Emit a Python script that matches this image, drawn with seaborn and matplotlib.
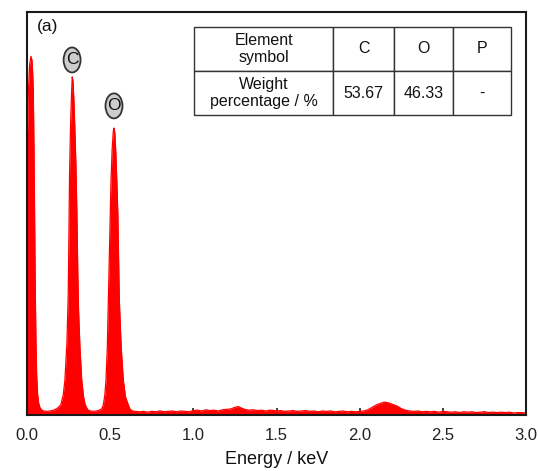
import matplotlib
matplotlib.use("Agg")
import matplotlib.pyplot as plt
from matplotlib.ticker import MultipleLocator
from matplotlib.patches import Ellipse
import seaborn as sns
import pandas as pd

# ---- data (energy in keV, intensity in % of axis height) ----
peak0_energy = [0.000, 0.008, 0.016, 0.024, 0.030, 0.034, 0.038, 0.042, 0.046, 0.050,
                0.054, 0.058, 0.064, 0.070, 0.078, 0.090]
peak0_counts = [64, 80, 87, 89, 88, 85, 80, 66, 48, 30, 18, 10, 5, 3, 1.8, 1.2]

valley1_energy = [0.100, 0.120, 0.140, 0.160, 0.175]
valley1_counts = [1.0, 0.9, 1.0, 1.2, 1.5]

c_energy = [0.186, 0.203, 0.218, 0.228, 0.240, 0.248, 0.252, 0.256, 0.262, 0.268, 0.272,
            0.276, 0.281, 0.287, 0.294, 0.300, 0.305, 0.310, 0.318, 0.329, 0.340, 0.350, 0.365]
c_counts = [1.8, 2.5, 5, 8.7, 18, 30, 45, 60, 72, 80, 83.9,
            83, 79, 72, 62, 50, 36, 26, 17, 8.7, 4.5, 2.5, 1.3]

valley2_energy = [0.380, 0.400, 0.420, 0.440]
valley2_counts = [1.0, 0.9, 1.0, 1.3]

o_energy = [0.450, 0.459, 0.468, 0.475, 0.483, 0.489, 0.495, 0.500, 0.505, 0.512, 0.519,
            0.523, 0.528, 0.534, 0.540, 0.546, 0.551, 0.555, 0.566, 0.579, 0.592, 0.609,
            0.620, 0.635]
o_counts = [1.6, 2.5, 5, 8.7, 17, 28.5, 40, 50, 58, 66, 70.5,
            71.2, 70, 65, 58, 50, 38, 28.5, 17, 8.7, 4.5, 2.5, 1.4, 1.0]

bg_energy = [0.650, 0.675, 0.700, 0.725, 0.750, 0.775, 0.800, 0.825, 0.850, 0.875, 0.900,
             0.925, 0.950, 0.975, 1.000, 1.025, 1.050, 1.075, 1.100, 1.125, 1.150, 1.175,
             1.200, 1.225, 1.250, 1.270, 1.290, 1.310, 1.335, 1.360, 1.385, 1.410, 1.435,
             1.460, 1.485, 1.500, 1.525, 1.550, 1.575, 1.600, 1.625, 1.650, 1.675, 1.700,
             1.725, 1.750, 1.775, 1.800, 1.825, 1.850, 1.875, 1.900, 1.925, 1.950, 1.975,
             2.000, 2.025, 2.050, 2.075, 2.100, 2.125, 2.150, 2.175, 2.200, 2.225, 2.250,
             2.275, 2.300, 2.325, 2.350, 2.375, 2.400, 2.425, 2.450, 2.475, 2.500, 2.525,
             2.550, 2.575, 2.600, 2.625, 2.650, 2.675, 2.700, 2.725, 2.750, 2.775, 2.800,
             2.825, 2.850, 2.875, 2.900, 2.925, 2.950, 2.975, 3.000]
bg_counts = [0.9, 0.8, 0.9, 0.7, 0.9, 0.8, 1.0, 0.8, 0.9, 1.0, 0.8,
             1.0, 0.9, 0.8, 1.1, 1.2, 1.0, 1.3, 1.1, 1.2, 1.0, 1.3,
             1.4, 1.5, 1.9, 2.1, 1.7, 1.4, 1.2, 1.3, 1.1, 1.2, 1.0,
             1.2, 1.1, 1.0, 1.1, 0.9, 1.0, 1.1, 0.9, 1.0, 1.1, 0.9,
             1.0, 0.8, 1.0, 0.9, 1.0, 0.8, 0.9, 1.0, 0.8, 0.9, 0.8,
             0.9, 1.0, 1.3, 1.9, 2.5, 2.9, 3.2, 3.0, 2.6, 2.2, 1.6,
             1.2, 1.0, 0.9, 1.0, 0.8, 0.9, 0.8, 0.9, 0.7, 0.9, 0.8,
             0.7, 0.8, 0.6, 0.8, 0.7, 0.8, 0.6, 0.7, 0.8, 0.6, 0.7,
             0.6, 0.7, 0.6, 0.7, 0.5, 0.6, 0.6, 0.5]

peak_labels = ["C", "O"]
peak_label_energy = [0.271, 0.523]
peak_label_height = [88.1, 76.7]

table_rows = [["Element\nsymbol", "C", "O", "P"],
              ["Weight\npercentage / %", "53.67", "46.33", "-"]]

xtick_major = 0.5
xtick_minor = 0.25
x_limits = (0.0, 3.0)
y_limits = (0.0, 100.0)
x_label = "Energy / keV"
panel_tag = "(a)"

# ---- assemble ----
energy = peak0_energy + valley1_energy + c_energy + valley2_energy + o_energy + bg_energy
counts = peak0_counts + valley1_counts + c_counts + valley2_counts + o_counts + bg_counts
df = pd.DataFrame({"energy": energy, "counts": counts})

sns.set_style("ticks")
plt.rcParams["font.family"] = ["Liberation Sans", "DejaVu Sans"]

fig = plt.figure(figsize=(5.38, 4.71), dpi=100)
ax = fig.add_axes([27 / 538, 1 - 415 / 471, 499 / 538, 403 / 471])

red = "#ff0000"
ax.fill_between(df["energy"], 0, df["counts"], color=red, linewidth=0, zorder=2)
sns.lineplot(data=df, x="energy", y="counts", ax=ax, color=red, linewidth=0.9,
             estimator=None, sort=False, zorder=3)

ax.set_xlim(*x_limits)
ax.set_ylim(*y_limits)
ax.set_yticks([])
ax.set_ylabel("")
ax.set_xlabel(x_label, fontsize=13, labelpad=6, color="#111111")
ax.xaxis.set_major_locator(MultipleLocator(xtick_major))
ax.xaxis.set_minor_locator(MultipleLocator(xtick_minor))
ax.xaxis.set_major_formatter(matplotlib.ticker.FormatStrFormatter("%.1f"))
ax.tick_params(axis="x", which="major", direction="in", length=5, width=1.2,
               labelsize=12, pad=9, colors="#222222")
ax.tick_params(axis="x", which="minor", direction="in", length=3, width=1.0,
               colors="#222222")
for s in ax.spines.values():
    s.set_visible(True)
    s.set_linewidth(1.5)
    s.set_color("#1a1a1a")
    s.set_zorder(5)

# circled peak labels (ellipse ~18 x 26 px)
kev_per_px = (x_limits[1] - x_limits[0]) / 499
val_per_px = (y_limits[1] - y_limits[0]) / 403
for lab, ex, ey in zip(peak_labels, peak_label_energy, peak_label_height):
    ax.add_patch(Ellipse((ex, ey), 17 * kev_per_px, 25 * val_per_px,
                         fc="#cdcdcd", ec="#333333", lw=1.3, zorder=6))
    ax.text(ex, ey, lab, ha="center", va="center", fontsize=12.5, color="#111111",
            zorder=7)

ax.text(0.02, 0.963, panel_tag, transform=ax.transAxes, fontsize=12.5,
        ha="left", va="center", color="#111111")

# table
tbl = ax.table(cellText=table_rows, cellLoc="center",
               colWidths=[139, 61, 59, 58],
               bbox=[0.335, 0.744, 0.635, 0.219], zorder=8)
tbl.auto_set_font_size(False)
for (r, c), cell in tbl.get_celld().items():
    cell.set_edgecolor("#333333")
    cell.set_linewidth(1.0)
    cell.set_facecolor("white")
    cell.get_text().set_fontsize(11.5)
    cell.get_text().set_color("#111111")
    cell.get_text().set_linespacing(1.15)

fig.savefig("out.png", dpi=100)
